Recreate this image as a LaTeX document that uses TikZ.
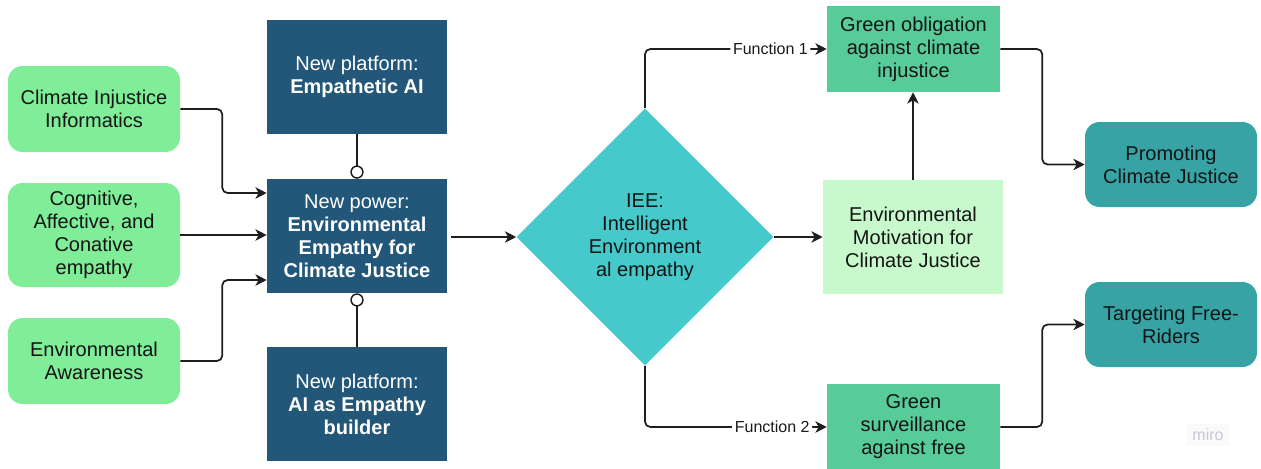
\documentclass[tikz,border=0pt]{standalone}
\usepackage{fontspec}
\setmainfont{Liberation Sans}
\usetikzlibrary{arrows.meta,shapes.geometric,calc}
\definecolor{lgreen}{HTML}{80ED99}
\definecolor{dblue}{HTML}{22577A}
\definecolor{turq}{HTML}{46C9CA}
\definecolor{mgreen}{HTML}{57CC99}
\definecolor{pgreen}{HTML}{C7F9CC}
\definecolor{tealbox}{HTML}{38A3A5}
\definecolor{linec}{HTML}{1E1E1E}
\definecolor{mirogray}{HTML}{C9C7D4}
\begin{document}
\begin{tikzpicture}[x=0.75pt,y=-0.75pt,
  base/.style={rectangle, inner sep=0pt, align=center, text=black!92, font=\fontsize{15}{17.25}\selectfont},
  inbox/.style={base, fill=lgreen, rounded corners=11pt, minimum width=129pt},
  darkbox/.style={base, fill=dblue, text=white, minimum width=135pt, minimum height=85.5pt},
  midbox/.style={base, fill=mgreen, minimum width=129.75pt, minimum height=64.5pt},
  motbox/.style={base, fill=pgreen, minimum width=135pt, minimum height=85.5pt},
  outbox/.style={base, fill=tealbox, rounded corners=11pt, minimum width=129pt, minimum height=63.75pt},
  decide/.style={base, shape=diamond, aspect=1, fill=turq, minimum width=192.75pt, minimum height=192.75pt},
  arr/.style={draw=linec, line width=1.3pt, rounded corners=4pt, -{Stealth[length=8.5pt,width=8.5pt,inset=2.5pt]}},
  circ/.style={draw=linec, line width=1.3pt, -{Circle[open,length=10pt,width=10pt,line width=1.1pt]}},
  flabel/.style={fill=white, inner sep=2pt, text=black!90, font=\fontsize{12}{13}\selectfont}
]
\clip (0,0) rectangle (1261,468);
\useasboundingbox (0,0) rectangle (1261,468);

% inputs
\node[inbox, minimum height=64.5pt] (g1) at (94,109) {Climate Injustice\\Informatics};
\node[inbox, minimum height=78pt] (g2) at (94,235) {Cognitive,\\Affective, and\\Conative\\empathy};
\node[inbox, minimum height=64.5pt] (g3) at (94,361) {Environmental\\Awareness};

% dark boxes
\node[darkbox] (pt) at (357,77) {New platform:\\\textbf{Empathetic AI}};
\node[darkbox] (c) at (357,236) {New power:\\\textbf{Environmental}\\\textbf{Empathy for}\\\textbf{Climate Justice}};
\node[darkbox] (pb) at (357,404) {New platform:\\\textbf{AI as Empathy}\\\textbf{builder}};

% diamond
\node[decide] (d) at (645,237) {IEE:\\Intelligent\\Environment\\al empathy};

% right side
\node[midbox] (ob) at (913.5,49) {Green obligation\\against climate\\injustice};
\node[motbox] (mo) at (913,237) {Environmental\\Motivation for\\Climate Justice};
\node[midbox] (sv) at (913.5,427) {Green\\surveillance\\against free};
\node[outbox] (pr) at (1171,164.5) {Promoting\\Climate Justice};
\node[outbox] (tg) at (1171,324.5) {Targeting Free-\\Riders};

% watermark
\node[fill=black!2, inner sep=4pt, text=mirogray, font=\fontsize{12}{14}\selectfont] (miro) at (1208,435) {miro};

% connectors
\draw[arr] (g1.east) -- ++(42,0) |- ($(c.west)+(0,-43)$);
\draw[arr] (g2.east) -- (g2.east -| c.west);
\draw[arr] (g3.east) -- ++(42,0) |- ($(c.west)+(0,44)$);
\draw[circ] (pt.south) -- (c.north);
\draw[circ] (pb.north) -- (c.south);
\draw[arr, shorten <=3pt] (c.east |- d.west) -- (d.west);
\draw[arr] (d.north) |- node[flabel, pos=0.845] {Function 1} (ob.west);
\draw[arr] (d.south) |- node[flabel, pos=0.85] {Function 2} (sv.west);
\draw[arr] (d.east) -- (mo.west);
\draw[arr] (mo.north) -- (mo.north |- ob.south);
\draw[arr] (ob.east) -- ++(42,0) |- (pr.west);
\draw[arr] (sv.east) -- ++(42,0) |- (tg.west);
\end{tikzpicture}
\end{document}
